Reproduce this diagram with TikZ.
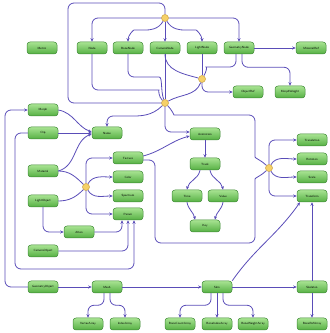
\documentclass[tikz,border=0pt]{standalone}
\usetikzlibrary{arrows.meta}
\definecolor{boxtop}{HTML}{A8E392}
\definecolor{boxbot}{HTML}{55B043}
\definecolor{boxline}{HTML}{3F8A36}
\definecolor{linkcol}{HTML}{5A4DB8}
\definecolor{juncfill}{HTML}{F6D168}
\definecolor{juncline}{HTML}{C9A140}
\tikzset{
	struct/.style={draw=boxline, line width=.5pt, rounded corners=3pt, top color=boxtop, bottom color=boxbot,
		minimum width=30pt, minimum height=12pt, inner sep=0pt, font=\sffamily\fontsize{3}{3.5}\selectfont},
	junc/.style={circle, draw=juncline, fill=juncfill, line width=.5pt, minimum size=7pt, inner sep=0pt},
	link/.style={draw=linkcol, line width=.8pt, rounded corners=6pt},
	arr/.style={link, -{Stealth[length=3.5pt,width=3pt]}},
}
\begin{document}
\begin{tikzpicture}[x=1pt, y=1pt]
	\useasboundingbox (0,0) rectangle (330,333) ;
	% nodes
	\node (metric)[struct] at (42, 285) {Metric} ;
	\node (nd)[struct] at (92, 285) {Node} ;
	\node (bonend)[struct] at (128, 285) {BoneNode} ;
	\node (camnd)[struct] at (165, 285) {CameraNode} ;
	\node (lightnd)[struct] at (202, 285) {LightNode} ;
	\node (geond)[struct] at (239, 285) {GeometryNode} ;
	\node (matref)[struct] at (311, 285) {MaterialRef} ;
	\node (objref)[struct] at (248, 241) {ObjectRef} ;
	\node (morphw)[struct] at (290, 241) {MorphWeight} ;
	\node (morph)[struct] at (43, 223) {Morph} ;
	\node (clip)[struct] at (43, 200) {Clip} ;
	\node (name)[struct] at (107, 200) {Name} ;
	\node (anim)[struct] at (205, 199) {Animation} ;
	\node (material)[struct] at (43, 162) {Material} ;
	\node (lightobj)[struct] at (43, 132) {LightObject} ;
	\node (atten)[struct] at (79, 101) {Atten} ;
	\node (camobj)[struct] at (43, 82) {CameraObject} ;
	\node (texture)[struct] at (128, 175) {Texture} ;
	\node (color)[struct] at (128, 156) {Color} ;
	\node (spectrum)[struct] at (128, 137) {Spectrum} ;
	\node (param)[struct] at (128, 119) {Param} ;
	\node (track)[struct] at (205, 169) {Track} ;
	\node (time)[struct] at (187, 137) {Time} ;
	\node (value)[struct] at (223, 137) {Value} ;
	\node (key)[struct] at (205, 107) {Key} ;
	\node (transl)[struct] at (312, 193) {Translation} ;
	\node (rot)[struct] at (312, 174) {Rotation} ;
	\node (scale)[struct] at (312, 156) {Scale} ;
	\node (transform)[struct] at (312, 137) {Transform} ;
	\node (geoobj)[struct] at (43, 46) {GeometryObject} ;
	\node (mesh)[struct] at (107, 46) {Mesh} ;
	\node (skin)[struct] at (217, 46) {Skin} ;
	\node (skeleton)[struct] at (312, 46) {Skeleton} ;
	\node (vertex)[struct] at (88, 9) {VertexArray} ;
	\node (index)[struct] at (125, 9) {IndexArray} ;
	\node (bonecount)[struct] at (180, 9) {BoneCountArray} ;
	\node (boneindex)[struct] at (217, 9) {BoneIndexArray} ;
	\node (boneweight)[struct] at (253, 9) {BoneWeightArray} ;
	\node (boneref)[struct] at (312, 9) {BoneRefArray} ;
	% junctions
	\node (tj)[junc] at (165, 315) {} ;
	\node (oj)[junc] at (202, 254) {} ;
	\node (nj)[junc] at (165, 230) {} ;
	\node (mj)[junc] at (86, 146) {} ;
	\node (tfj)[junc] at (269, 165) {} ;
	% node hierarchy
	\draw[arr] (tj) -| (nd.north) ;
	\draw[arr] (tj) to[out=240,in=0] (140,303) to[out=180,in=90] (bonend.north) ;
	\draw[arr] (tj) -- (camnd) ;
	\draw[arr] (tj) to[out=-60,in=180] (190,303) to[out=0,in=90] (lightnd.north) ;
	\draw[arr] (tj) -| (geond.north) ;
	\draw[link] (nj) -| (68,330) -| (tj) ;
	\draw[link] (nd.south) |- (153,243) to[out=0,in=135] (nj) ;
	\draw[link] (bonend.south) |- (153,256) to[out=0,in=110] (nj) ;
	\draw[link] (camnd) -- (nj) ;
	\draw[link] (camnd.south) to[out=-90,in=165] (oj) ;
	\draw[link] (lightnd) -- (oj) ;
	\draw[link] ([xshift=-3pt]geond.south) |- (212,266) to[out=180,in=60] (oj) ;
	\draw[arr] ([xshift=3pt]geond.south) -- ++(0,-13) -| (morphw.north) ;
	\draw[arr] (geond) -- (matref) ;
	\draw[arr] (oj) |- (objref.west) ;
	\draw[link] (oj) to[out=-110,in=30] (nj) ;
	\draw[arr] (nj) to[out=225,in=0] (125,217) -| (name.north) ;
	\draw[arr] (nj) |- ([yshift=2pt]anim.west) ;
	\draw[link] (nj) to[out=-45,in=180] (180,218) -| (255,182) to[out=-90,in=135] (tfj) ;
	% names and materials
	\draw[arr] (geoobj.west) -| (5,223) -- (morph.west) ;
	\draw[arr] (morph.east) to[out=-10,in=160] ([yshift=1pt]name.west) ;
	\draw[arr] (clip) -- (name) ;
	\draw[arr] (material.east) to[out=15,in=200] ([yshift=-1pt]name.west) ;
	\draw[link] (material.east) to[out=0,in=135] (mj) ;
	\draw[link] (lightobj.east) to[out=0,in=225] (mj) ;
	\draw[arr] (mj) |- (texture.west) ;
	\draw[arr] (mj) to[out=60,in=180] (color.west) ;
	\draw[arr] (mj) to[out=-60,in=180] (spectrum.west) ;
	\draw[arr] (mj) |- (param.west) ;
	\draw[arr] (lightobj.south) |- (atten.west) ;
	\draw[arr] (atten.east) -| ([xshift=-6pt]param.south) ;
	\draw[arr] (camobj.east) -| (param.south) ;
	\draw[arr] (clip.west) -| (15,64) -| ([xshift=6pt]param.south) ;
	\draw[arr] ([yshift=2pt]texture.east) to[out=15,in=195] ([yshift=-2pt]anim.west) ;
	\draw[link] ([yshift=-2pt]texture.east) -| (155,90) -| (255,148) to[out=90,in=-135] (tfj) ;
	% transforms
	\draw[arr] (tfj) |- (transl.west) ;
	\draw[arr] (tfj) to[out=60,in=180] (rot.west) ;
	\draw[arr] (tfj) to[out=-60,in=180] (scale.west) ;
	\draw[arr] (tfj) |- (transform.west) ;
	\draw[arr] (skin.north east) to[out=55,in=235] ([xshift=-12pt]transform.south) ;
	\draw[arr] (skeleton) -- (transform) ;
	% animation
	\draw[arr] (anim) -- (track) ;
	\draw[arr] ([xshift=-5pt]track.south) to[out=-100,in=80] (time.north) ;
	\draw[arr] ([xshift=5pt]track.south) to[out=-80,in=100] (value.north) ;
	\draw[arr] (time.south) to[out=-80,in=100] ([xshift=-10pt]key.north) ;
	\draw[arr] (value.south) to[out=-100,in=80] ([xshift=10pt]key.north) ;
	% geometry
	\draw[arr] (geoobj) -- (mesh) ;
	\draw[arr] (mesh) -- (skin) ;
	\draw[arr] (skin) -- (skeleton) ;
	\draw[arr] ([xshift=-3pt]mesh.south) -- ++(0,-12) -| (vertex.north) ;
	\draw[arr] ([xshift=3pt]mesh.south) -- ++(0,-12) -| (index.north) ;
	\draw[arr] ([xshift=-6pt]skin.south) -- ++(0,-12) -| (bonecount.north) ;
	\draw[arr] (skin) -- (boneindex) ;
	\draw[arr] ([xshift=6pt]skin.south) -- ++(0,-12) -| (boneweight.north) ;
	\draw[arr] (skeleton) -- (boneref) ;
\end{tikzpicture}
\end{document}
